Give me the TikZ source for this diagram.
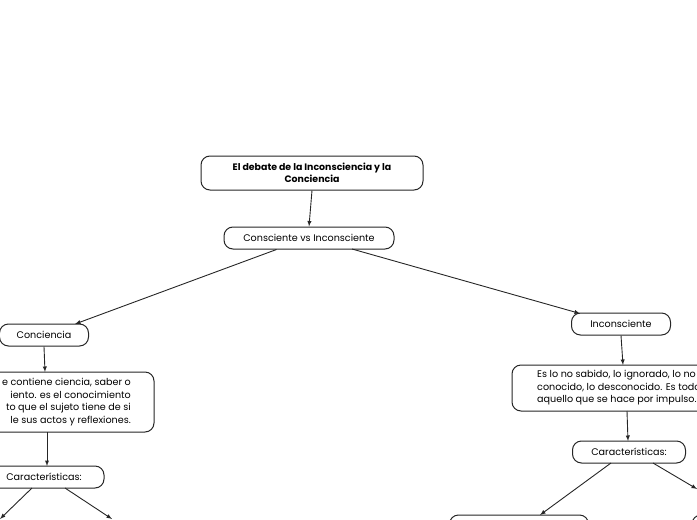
\documentclass[tikz,border=0pt]{standalone}
\usepackage{fontspec}
\setmainfont{Poppins}
\begin{document}
\begin{tikzpicture}[x=1pt,y=-1pt,font=\fontsize{9.6}{12.5}\selectfont,
  box/.style={draw=black!85,line width=1pt,rounded corners=9pt,fill=white,align=center,inner sep=0pt},
  arr/.style={draw=black!85,line width=0.9pt,-latex}]
\useasboundingbox (0,0) rectangle (697,520);
\clip (0,0) rectangle (697,520);
\node[box,minimum width=222,minimum height=34,font=\fontsize{9.4}{11.5}\selectfont\bfseries] (t) at (312,173) {El debate de la Inconsciencia y la\\Conciencia};
\node[box,minimum width=170,minimum height=22] (cv) at (309,238) {Consciente vs Inconsciente};
\node[box,minimum width=89,minimum height=22] (c) at (44,335) {Conciencia};
\node[box,minimum width=200,minimum height=60] (cd) at (54,402) {};
\node[anchor=east,align=right,inner sep=0pt] (cdt) at (131,402) {e contiene ciencia, saber o\\iento. es el conocimiento\\to que el sujeto tiene de si\\le sus actos y reflexiones.};
\node[box,minimum width=124,minimum height=22] (cc) at (42,477) {};
\node[inner sep=0pt] (cct) at (44,477) {Características:};
\node[box,minimum width=99,minimum height=22] (i) at (621,324) {Inconsciente};
\node[box,minimum width=220,minimum height=46] (id) at (622,388) {};
\node[anchor=west,align=left,inner sep=0pt] (idt) at (537,388) {Es lo no sabido, lo ignorado, lo no\\conocido, lo desconocido. Es todo\\aquello que se hace por impulso.};
\node[box,minimum width=113,minimum height=22] (ic) at (629,452) {Características:};
\node[box,minimum width=139,minimum height=22] (b1) at (519,526) {};
\node[box,minimum width=100,minimum height=22] (b2) at (742,526) {};
\coordinate (o1) at (0,519);
\coordinate (o2) at (697,489);
\draw[arr] (t.south) -- (cv.north);
\draw[arr] (cv.south west)++(53,0) -- (75,324);
\draw[arr] (352,249) -- (580,313.5);
\draw[arr] (c.south) -- (45,372);
\draw[arr] (47,432) -- (47,466);
\draw[arr] (i.south) -- (623,365);
\draw[arr] (627,411) -- (628,441);
\draw[arr] (611,463) -- (540,515);
\draw[arr] (32,488) -- (o1);
\draw[arr] (65,488) -- (112,519);
\draw[arr] (653,463) -- (o2);
\end{tikzpicture}
\end{document}
